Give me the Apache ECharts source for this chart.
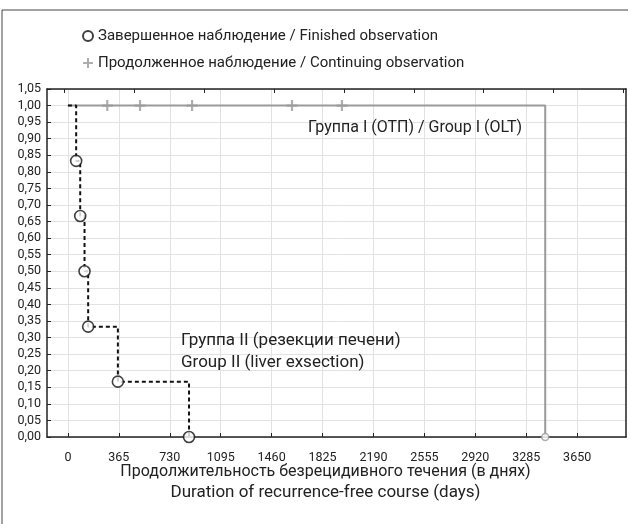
<!DOCTYPE html>
<html>
<head>
<meta charset="utf-8">
<script src="https://cdn.jsdelivr.net/npm/echarts@6/dist/echarts.min.js"></script>
<style>
html,body{margin:0;padding:0;background:#fff;}
#chart{width:631px;height:524px;}
</style>
</head>
<body>
<div id="chart"></div>
<script>
// ---- data ----
const xTicks = [0, 365, 730, 1095, 1460, 1825, 2190, 2555, 2920, 3285, 3650];
const topTicks = [-25, 475, 976, 1477, 1978, 2479, 2980, 3481, 3982];
const groupIITimes = [0, 59, 88, 119, 145, 358, 868];
const groupIISurv = [1, 0.833, 0.667, 0.5, 0.333, 0.167, 0];
const groupITimes = [0, 3421];
const groupISurv = [1, 0];
const groupICensoredTimes = [282, 517, 890, 1606, 1964];
const groupICensoredSurv = [1, 1, 1, 1, 1];
const groupIEventTimes = [3421];
const groupIEventSurv = [0];
const legendFinished = 'Завершенное наблюдение / Finished observation';
const legendContinuing = 'Продолженное наблюдение / Continuing observation';
const labelGroupI = 'Группа I (ОТП) / Group I (OLT)';
const labelGroupII = ['Группа II (резекции печени)', 'Group II (liver exsection)'];
const xTitle = ['Продолжительность безрецидивного течения (в днях)', 'Duration of recurrence-free course (days)'];

const FONT = 'Roboto, "Noto Sans", sans-serif';
const zip = (a, b) => a.map((v, i) => [v, b[i]]);
const plusPath = 'path://M4,0H6V4H10V6H6V10H4V6H0V4H4Z';

const chart = echarts.init(document.getElementById('chart'), null, {renderer: 'canvas'});
const option = {
  animation: false,
  backgroundColor: '#fff',
  textStyle: {fontFamily: FONT},
  grid: {left: 47, right: 5, top: 89, bottom: 87, containLabel: false},
  legend: {
    orient: 'vertical', left: 82, top: 27, itemGap: 9, padding: 0,
    itemWidth: 10, itemHeight: 10,
    textStyle: {fontFamily: FONT, fontSize: 15, lineHeight: 18, color: '#222'},
    data: [legendFinished, legendContinuing]
  },
  xAxis: [{
    type: 'value', position: 'bottom', min: -150, max: 4000,
    axisLine: {show: true, onZero: false, lineStyle: {color: '#222', width: 1.5}},
    axisTick: {show: true, inside: true, length: 4, customValues: xTicks, lineStyle: {color: '#222'}},
    axisLabel: {show: true, customValues: xTicks, margin: 14, fontSize: 12.5, color: '#222', fontFamily: FONT,
      formatter: v => String(v)},
    splitLine: {show: true, lineStyle: {color: '#e2e2e2', width: 1}},
    name: '{a|' + xTitle[0] + '}\n{b|' + xTitle[1] + '}', nameLocation: 'middle', nameGap: 24,
    nameMoveOverlap: false,
    nameTextStyle: {color: '#222', fontFamily: FONT, padding: [0, 22, 0, 0], verticalAlign: 'top',
      rich: {
        a: {fontSize: 16, lineHeight: 21, color: '#222', fontFamily: FONT},
        b: {fontSize: 17, lineHeight: 21, color: '#222', fontFamily: FONT}
      }}
  }, {
    type: 'value', position: 'top', min: -150, max: 4000,
    axisLine: {show: true, onZero: false, lineStyle: {color: '#222', width: 1.5}},
    axisTick: {show: true, inside: true, length: 4, customValues: topTicks, lineStyle: {color: '#222'}},
    axisLabel: {show: false},
    splitLine: {show: false}
  }],
  yAxis: [{
    type: 'value', min: 0, max: 1.05, interval: 0.05,
    axisLine: {show: true, onZero: false, lineStyle: {color: '#222', width: 1.5}},
    axisTick: {show: true, inside: true, length: 4, lineStyle: {color: '#222'}},
    axisLabel: {fontSize: 12.5, color: '#222', margin: 6, fontFamily: FONT,
      formatter: v => v.toFixed(2).replace('.', ',')},
    splitLine: {show: true, lineStyle: {color: '#e2e2e2', width: 1}}
  }, {
    type: 'value', position: 'right', min: 0, max: 1.05, interval: 0.05,
    axisLine: {show: true, onZero: false, lineStyle: {color: '#222', width: 1.5}},
    axisTick: {show: false},
    axisLabel: {show: false},
    splitLine: {show: false}
  }],
  series: [{
    name: 'Group I', type: 'line', step: 'end', symbol: 'none',
    data: zip(groupITimes, groupISurv),
    lineStyle: {color: '#9a9a9a', width: 2},
    z: 2
  }, {
    name: 'Group II', type: 'line', step: 'end', symbol: 'none',
    data: zip(groupIITimes, groupIISurv),
    lineStyle: {color: '#111', width: 2, type: [4, 3]},
    z: 3
  }, {
    name: legendContinuing, type: 'scatter', symbol: plusPath, symbolSize: 11,
    data: zip(groupICensoredTimes, groupICensoredSurv),
    itemStyle: {color: '#9a9a9a'}, z: 4
  }, {
    name: legendFinished, type: 'scatter', symbol: 'circle', symbolSize: 11,
    data: zip(groupIITimes.slice(1), groupIISurv.slice(1)),
    itemStyle: {color: '#fff', borderColor: '#111', borderWidth: 1.6}, z: 5
  }, {
    name: 'Group I event', type: 'scatter', symbol: 'circle', symbolSize: 7,
    data: zip(groupIEventTimes, groupIEventSurv),
    itemStyle: {color: '#fff', borderColor: '#9a9a9a', borderWidth: 1.5}, z: 5
  }],
  graphic: [
    {type: 'line', z: 100, shape: {x1: 2, y1: 10, x2: 628, y2: 10}, style: {stroke: '#444', lineWidth: 1}},
    {type: 'line', z: 100, shape: {x1: 2, y1: 10, x2: 2, y2: 524}, style: {stroke: '#444', lineWidth: 1}},
    {type: 'text', z: 100, left: 308, top: 120, style: {text: labelGroupI, font: '16px ' + FONT, fill: '#222'}},
    {type: 'text', z: 100, left: 181, top: 330, style: {text: labelGroupII.join('\n'), font: '17px ' + FONT, lineHeight: 22, fill: '#222'}}
  ]
};
chart.setOption(option);
</script>
</body>
</html>
